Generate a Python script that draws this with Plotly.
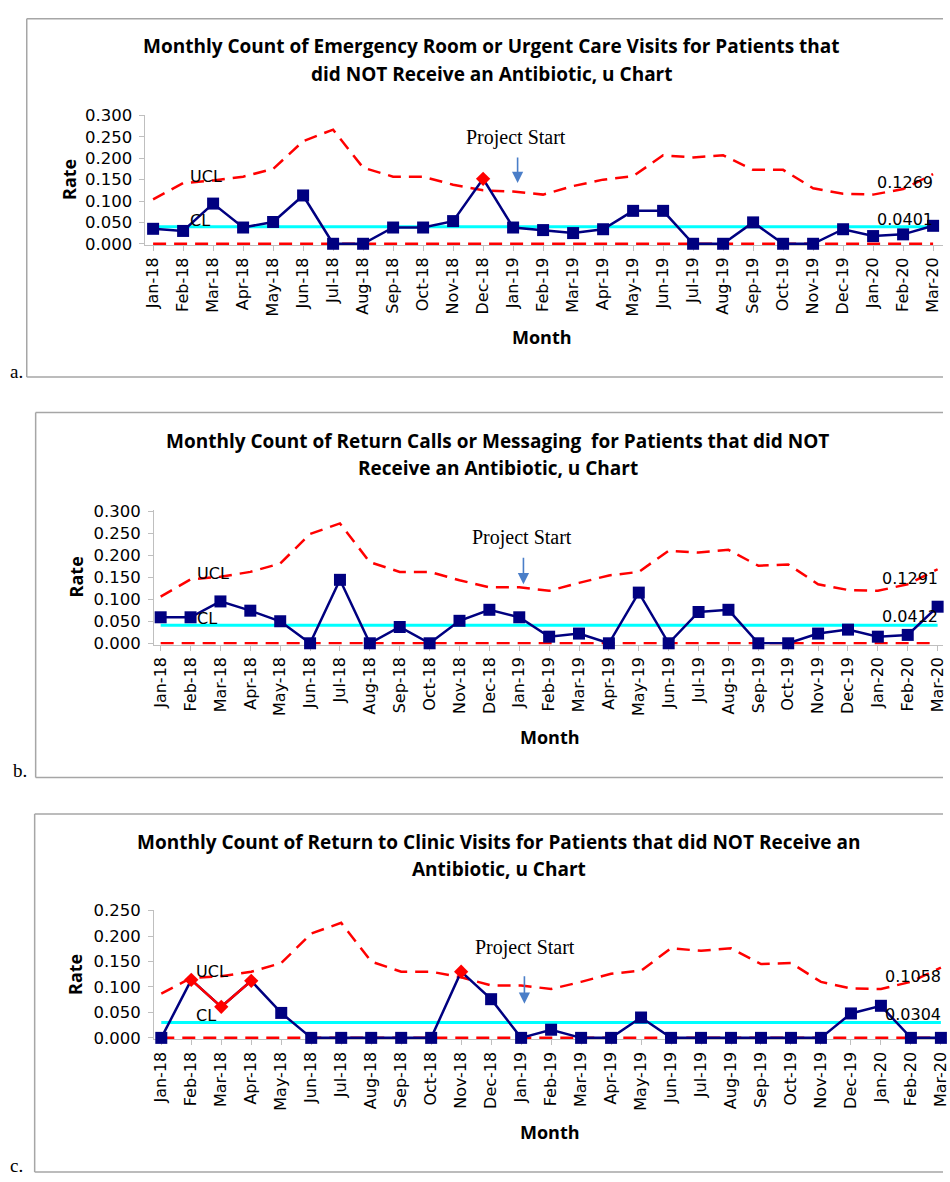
import plotly.graph_objects as go

W, H = 950, 1182

months = ["Jan-18", "Feb-18", "Mar-18", "Apr-18", "May-18", "Jun-18", "Jul-18", "Aug-18",
          "Sep-18", "Oct-18", "Nov-18", "Dec-18", "Jan-19", "Feb-19", "Mar-19", "Apr-19",
          "May-19", "Jun-19", "Jul-19", "Aug-19", "Sep-19", "Oct-19", "Nov-19", "Dec-19",
          "Jan-20", "Feb-20", "Mar-20"]

# Panel a: ER / urgent care visits
a_title = ["Monthly Count of Emergency Room or Urgent Care Visits for Patients that",
           "did NOT Receive an Antibiotic, u Chart"]
a_rate = [0.035, 0.030, 0.094, 0.038, 0.051, 0.113, 0.0, 0.0, 0.038, 0.038, 0.053, 0.152,
          0.038, 0.032, 0.025, 0.034, 0.077, 0.077, 0.0, 0.0, 0.050, 0.0, 0.0, 0.034,
          0.018, 0.022, 0.042]
a_ucl = [0.104, 0.142, 0.148, 0.157, 0.175, 0.240, 0.267, 0.178, 0.157, 0.157, 0.138, 0.125,
         0.122, 0.115, 0.135, 0.150, 0.158, 0.207, 0.202, 0.207, 0.173, 0.173, 0.130, 0.117,
         0.115, 0.128, 0.163]
a_cl = 0.0401
a_ucl_label = "0.1269"
a_cl_label = "0.0401"
a_signals = ["Dec-18"]

# Panel b: return calls or messaging
b_title = ["Monthly Count of Return Calls or Messaging  for Patients that did NOT",
           "Receive an Antibiotic, u Chart"]
b_rate = [0.059, 0.059, 0.095, 0.074, 0.050, 0.0, 0.144, 0.0, 0.037, 0.0, 0.051, 0.076,
          0.059, 0.015, 0.022, 0.0, 0.115, 0.0, 0.071, 0.076, 0.0, 0.0, 0.022, 0.031,
          0.015, 0.019, 0.083]
b_ucl = [0.106, 0.145, 0.151, 0.162, 0.181, 0.248, 0.272, 0.184, 0.162, 0.162, 0.143, 0.127,
         0.127, 0.119, 0.137, 0.154, 0.162, 0.210, 0.206, 0.212, 0.176, 0.179, 0.134, 0.121,
         0.119, 0.134, 0.168]
b_cl = 0.0412
b_ucl_label = "0.1291"
b_cl_label = "0.0412"
b_signals = []

# Panel c: return to clinic visits
c_title = ["Monthly Count of Return to Clinic Visits for Patients that did NOT Receive an",
           "Antibiotic, u Chart"]
c_rate = [0.0, 0.114, 0.061, 0.112, 0.049, 0.0, 0.0, 0.0, 0.0, 0.0, 0.130, 0.076,
          0.0, 0.016, 0.0, 0.0, 0.040, 0.0, 0.0, 0.0, 0.0, 0.0, 0.0, 0.048,
          0.063, 0.0, 0.0]
c_ucl = [0.087, 0.118, 0.121, 0.130, 0.147, 0.205, 0.226, 0.150, 0.130, 0.130, 0.119, 0.103,
         0.103, 0.096, 0.110, 0.126, 0.132, 0.176, 0.171, 0.176, 0.145, 0.147, 0.110, 0.097,
         0.096, 0.110, 0.138]
c_cl = 0.0304
c_ucl_label = "0.1058"
c_cl_label = "0.0304"
c_signals = ["Feb-18", "Mar-18", "Apr-18", "Nov-18"]

panel_letters = ["a.", "b.", "c."]
project_label = "Project Start"


def py(p):
    return 1 - p / H


def pxx(p):
    return p / W


# layout geometry (pixels) for each panel
geo = [
    dict(axis_left=144, y0px=239, ppu=433.3, ymax=0.30, xr=[-0.254, 26.33],
         box=(24, 11, 374), title_y=(42, 70), title_x=494, rate=(66, 174), month=(545, 336),
         letter=(14, 370), ucl_lab=(1.16, 0.155), cl_lab=(1.16, 0.053),
         rlab_x=26.07, rucl_y=0.142, rcl_y=0.055, ps=(12.11, 0.245), arrow=(12.15, 0.142, -27)),
    dict(axis_left=152.7, y0px=644, ppu=446.7, ymax=0.30, xr=[-0.22, 26.18],
         box=(33, 410, 780), title_y=(442, 469), title_x=500, rate=(74, 577), month=(553, 741),
         letter=(17, 774), ucl_lab=(1.15, 0.157), cl_lab=(1.15, 0.054),
         rlab_x=26.08, rucl_y=0.145, rcl_y=0.058, ps=(12.09, 0.235), arrow=(12.14, 0.134, -28)),
    dict(axis_left=152.7, y0px=1044, ppu=516.0, ymax=0.25, xr=[-0.24, 26.07],
         box=(32, 817, 1180), title_y=(848, 876), title_x=501, rate=(72, 980), month=(553, 1141),
         letter=(14, 1174), ucl_lab=(1.09, 0.129), cl_lab=(1.09, 0.041),
         rlab_x=26.07, rucl_y=0.118, rcl_y=0.043, ps=(12.12, 0.174), arrow=(12.11, 0.067, -29)),
]

data = [
    (a_title, a_rate, a_ucl, a_cl, a_ucl_label, a_cl_label, a_signals),
    (b_title, b_rate, b_ucl, b_cl, b_ucl_label, b_cl_label, b_signals),
    (c_title, c_rate, c_ucl, c_cl, c_ucl_label, c_cl_label, c_signals),
]

NAVY = "#000080"
RED = "#FF0000"
CYAN = "#00FFFF"
GRAY = "#BFBFBF"
BOXGRAY = "#A6A6A6"
TICKFONT = dict(family="DejaVu Sans", size=16, color="black")
TITLEFONT = dict(family="Open Sans", size=19, color="black")
AXTITLEFONT = dict(family="Open Sans", size=18, color="black")

fig = go.Figure()
annotations = []
shapes = []
layout = {}

for i, ((title, rate, ucl, cl, ucl_lab, cl_lab, signals), g) in enumerate(zip(data, geo)):
    sfx = "" if i == 0 else str(i + 1)
    xa, ya = "x" + sfx, "y" + sfx
    n = len(months)

    fig.add_trace(go.Scatter(x=months, y=[0] * n, mode="lines", xaxis=xa, yaxis=ya,
                             line=dict(color=RED, width=2.5, dash="13px,8px"), showlegend=False))
    fig.add_trace(go.Scatter(x=months, y=ucl, mode="lines", xaxis=xa, yaxis=ya,
                             line=dict(color=RED, width=2.5, dash="13px,8px"), showlegend=False))
    fig.add_trace(go.Scatter(x=months, y=[cl] * n, mode="lines", xaxis=xa, yaxis=ya,
                             line=dict(color=CYAN, width=3), showlegend=False))
    fig.add_trace(go.Scatter(x=months, y=rate, mode="lines", xaxis=xa, yaxis=ya,
                             line=dict(color=NAVY, width=2.5), showlegend=False))
    red_y = [v if m in signals else None for m, v in zip(months, rate)]
    fig.add_trace(go.Scatter(x=months, y=red_y, mode="lines", xaxis=xa, yaxis=ya,
                             line=dict(color=RED, width=2.5), connectgaps=False,
                             showlegend=False))
    is_sig = [m in signals for m in months]
    fig.add_trace(go.Scatter(
        x=months, y=rate, mode="markers", xaxis=xa, yaxis=ya, cliponaxis=False,
        marker=dict(symbol=["diamond" if s else "square" for s in is_sig],
                    size=[11 if s else 12 for s in is_sig],
                    color=[RED if s else NAVY for s in is_sig],
                    opacity=1, line=dict(width=0)),
        showlegend=False))

    ymin = -0.003
    ymax = g["ymax"] + 0.002
    bottom_px = g["y0px"] - ymin * g["ppu"]
    top_px = g["y0px"] - ymax * g["ppu"]
    layout["xaxis" + sfx] = dict(
        domain=[pxx(g["axis_left"]), 1], range=g["xr"], anchor=ya, type="category",
        categoryorder="array", categoryarray=months, tickangle=-90,
        showline=True, linecolor=GRAY, linewidth=1, ticks="outside", ticklen=5,
        tickcolor=GRAY, tickfont=TICKFONT, showgrid=False, zeroline=False,
        layer="below traces")
    layout["yaxis" + sfx] = dict(
        domain=[py(bottom_px), py(top_px)], range=[ymin, ymax], anchor=xa,
        tickmode="array", tickvals=[k * 0.05 for k in range(int(round(g["ymax"] / 0.05)) + 1)],
        tickformat=".3f", showline=True, linecolor=GRAY, linewidth=1, ticks="outside",
        ticklen=5, tickcolor=GRAY, tickfont=dict(family="DejaVu Sans", size=16.5, color="black"),
        ticklabelstandoff=4, showgrid=False, zeroline=False, layer="below traces")

    # panel frame: left, top and bottom edges (right edge lies beyond the picture)
    bx, by0, by1 = g["box"]
    for (x0, y0, x1, y1) in [(bx, by0, bx, by1), (bx, by0, W, by0), (bx, by1, W, by1)]:
        shapes.append(dict(type="line", xref="paper", yref="paper",
                           x0=pxx(x0), x1=pxx(x1), y0=py(y0), y1=py(y1),
                           line=dict(color=BOXGRAY, width=1.5)))

    for line, ty in zip(title, g["title_y"]):
        annotations.append(dict(xref="paper", yref="paper", x=pxx(g["title_x"]), y=py(ty),
                                text="<b>" + line + "</b>", showarrow=False, yshift=3,
                                xanchor="center", yanchor="middle", font=TITLEFONT))
    annotations.append(dict(xref="paper", yref="paper", x=pxx(g["rate"][0]), y=py(g["rate"][1]),
                            text="<b>Rate</b>", textangle=-90, showarrow=False,
                            xanchor="center", yanchor="middle", font=AXTITLEFONT))
    annotations.append(dict(xref="paper", yref="paper", x=pxx(g["month"][0]), y=py(g["month"][1]),
                            text="<b>Month</b>", showarrow=False, yshift=2,
                            xanchor="center", yanchor="middle", font=AXTITLEFONT))
    annotations.append(dict(xref="paper", yref="paper", x=pxx(g["letter"][0]), y=py(g["letter"][1]),
                            text=panel_letters[i], showarrow=False, xanchor="center",
                            yanchor="middle", yshift=1,
                            font=dict(family="Liberation Serif", size=19, color="black")))
    annotations.append(dict(xref=xa, yref=ya, x=g["ucl_lab"][0], y=g["ucl_lab"][1], text="UCL",
                            showarrow=False, xanchor="left", yanchor="middle", yshift=1,
                            font=TICKFONT))
    annotations.append(dict(xref=xa, yref=ya, x=g["cl_lab"][0], y=g["cl_lab"][1], text="CL",
                            showarrow=False, xanchor="left", yanchor="middle", yshift=1,
                            font=TICKFONT))
    annotations.append(dict(xref=xa, yref=ya, x=g["rlab_x"], y=g["rucl_y"], text=ucl_lab,
                            showarrow=False, xanchor="right", yanchor="middle", yshift=1,
                            font=TICKFONT))
    annotations.append(dict(xref=xa, yref=ya, x=g["rlab_x"], y=g["rcl_y"], text=cl_lab,
                            showarrow=False, xanchor="right", yanchor="middle", yshift=1,
                            font=TICKFONT))
    annotations.append(dict(xref=xa, yref=ya, x=g["ps"][0], y=g["ps"][1], text=project_label,
                            showarrow=False, xanchor="center", yanchor="middle", yshift=2,
                            font=dict(family="Liberation Serif", size=20, color="black")))
    ax_, ay_tip, ay_off = g["arrow"]
    annotations.append(dict(xref=xa, yref=ya, x=ax_, y=ay_tip, text="", showarrow=True,
                            ax=0, ay=ay_off, arrowhead=2, arrowsize=1.4, arrowwidth=1.6,
                            arrowcolor="#4A7EC8", standoff=0, startstandoff=0))

fig.update_layout(
    width=W, height=H, margin=dict(l=0, r=0, t=0, b=0),
    paper_bgcolor="white", plot_bgcolor="white",
    annotations=annotations, shapes=shapes, showlegend=False, **layout)

post = ("var de=document.documentElement,b=document.body;"
        "de.style.margin='0';de.style.padding='0';de.style.overflow='hidden';"
        "de.style.width='950px';de.style.height='1182px';"
        "b.style.margin='0';b.style.padding='0';b.style.overflow='hidden';"
        "b.style.width='950px';b.style.height='1182px';"
        "var d=document.getElementsByClassName('plotly-graph-div')[0];"
        "d.style.position='fixed';d.style.left='0px';d.style.top='0px';"
        "d.style.overflow='hidden';")

fig.write_html("out.html", post_script=post, config={"displayModeBar": False})
